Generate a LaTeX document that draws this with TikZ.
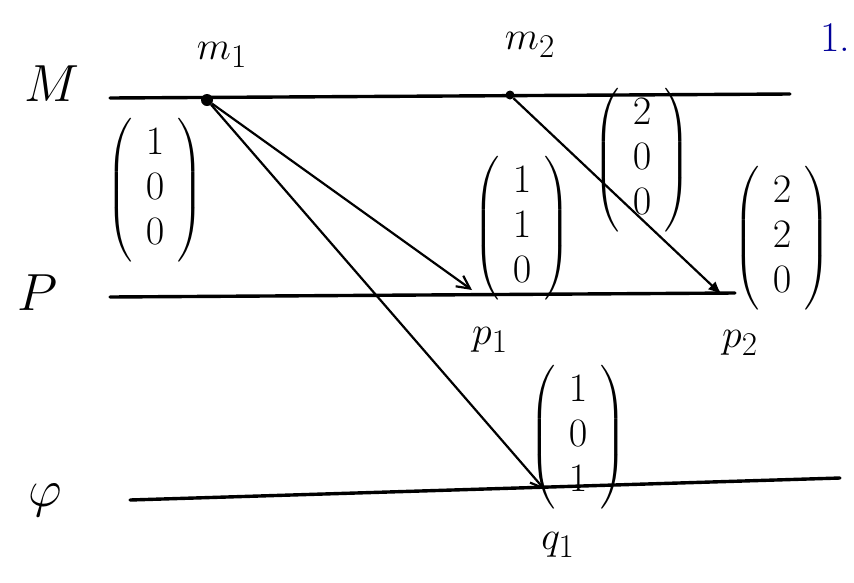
\documentclass[tikz,border=0pt]{standalone}
\usepackage{graphicx}
\usepackage{amsmath}
\usetikzlibrary{arrows.meta}
\newcommand{\dg}[1]{\scalebox{1.35}{$#1$}}
\newcommand{\vcl}[3]{\scalebox{1.2}{$\renewcommand{\arraystretch}{1.25}\left(\begin{array}{@{\hspace{11pt}}c@{\hspace{11pt}}}\dg{#1}\\\dg{#2}\\\dg{#3}\end{array}\right)$}}
\newcommand{\mysc}[2]{\scalebox{#1}{$#2$}}
\begin{document}
\begin{tikzpicture}[x=1pt,y=-1pt,
  proc/.style={line width=3.4pt,line cap=round},
  msg/.style={line width=2.2pt,-{Straight Barb[length=13pt,width=13pt,line width=2.2pt]}},
  msgf/.style={line width=2.2pt,-{Latex[length=14pt,width=11pt]}},
  ev/.style={circle,fill=black,inner sep=0pt,minimum size=12pt},
  txt/.style={font=\Huge,inner sep=0pt},
  note/.style={font=\Huge,text=blue!60!black,inner sep=0pt}]
\useasboundingbox (0,0) rectangle (854,582);
% process lines
\coordinate (Ms) at (110,98); \coordinate (Me) at (790,94);
\coordinate (Ps) at (110,297); \coordinate (Pe) at (735,293);
\coordinate (Qs) at (130,500); \coordinate (Qe) at (840,478);
\draw[proc] (Ms) -- (Me);
\draw[proc] (Ps) -- (Pe);
\draw[proc] (Qs) -- (Qe);
% process labels
\node[txt] (M) at (52,84) {\mysc{2.1}{M}};
\node[txt] (P) at (38,293) {\mysc{2.1}{P}};
\node[txt] (Q) at (45,500) {\mysc{2.1}{\varphi}};
% events
\node[ev] (m1) at (207,100) {};
\node[ev,minimum size=9pt] (m2) at (510,95) {};
\coordinate (p1) at (472,290);
\coordinate (p2) at (722,295);
\coordinate (q1) at (545,490);
\node[txt] (m1l) at (222,55) {\mysc{1.6}{m_1}};
\node[txt] (m2l) at (530,45) {\mysc{1.6}{m_2}};
\node[txt] (p1l) at (490,340) {\mysc{1.6}{p_1}};
\node[txt] (p2l) at (740,343) {\mysc{1.6}{p_2}};
\node[txt] (q1l) at (558,545) {\mysc{1.6}{q_1}};
% messages
\draw[msg] (m1) -- (p1);
\draw[msg] (m1) -- (q1);
\draw[msgf] (m2) -- (p2);
% vector clocks
\node[txt] (v1) at (155,190) {\vcl{1}{0}{0}};
\node[txt] (v2) at (522,228) {\vcl{1}{1}{0}};
\node[txt] (v3) at (642,160) {\vcl{2}{0}{0}};
\node[txt] (v4) at (782,238) {\vcl{2}{2}{0}};
\node[txt] (v5) at (578,437) {\vcl{1}{0}{1}};
% margin note
\node[note] (n1) at (835,38) {\scalebox{1.7}{1.}};
\end{tikzpicture}
\end{document}
